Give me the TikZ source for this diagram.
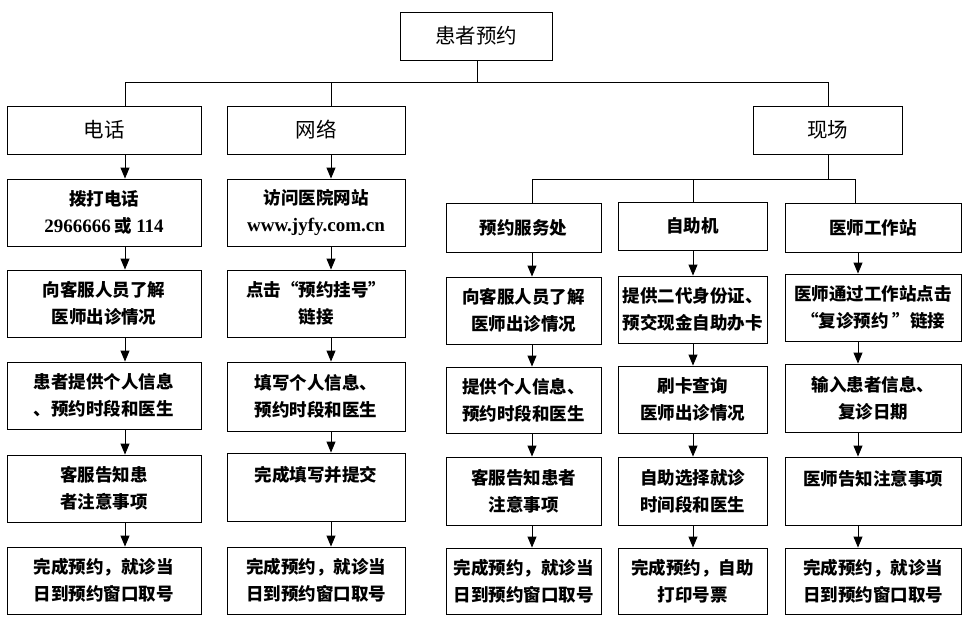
\documentclass[tikz,border=0pt]{standalone}
\usepackage{fontspec}
\setmainfont{Noto Sans CJK SC}
\newfontfamily\latf{Liberation Serif}
\usetikzlibrary{arrows.meta}
\newcommand\bodyfnt{\fontsize{17.5}{27}\selectfont\bfseries}
\newcommand\headfnt{\fontsize{20.5}{24}\selectfont}
\tikzset{
  box/.style={draw, line width=0.9pt, inner sep=0pt, align=center, font=\bodyfnt},
  hbox/.style={box, font=\headfnt},
  link/.style={line width=0.9pt},
  arr/.style={line width=0.9pt, -{Triangle[length=11pt,width=9pt]}}
}
\begin{document}
\begin{tikzpicture}[x=1pt,y=-1pt]
\useasboundingbox (0,0) rectangle (967,622);
% headers
\node[hbox, minimum width=152pt, minimum height=48pt] (top) at (476,36) {患者预约};
\node[hbox, minimum width=194pt, minimum height=48pt] (dh) at (104,130) {电话};
\node[hbox, minimum width=178pt, minimum height=48pt] (wl) at (316,130) {网络};
\node[hbox, minimum width=149pt, minimum height=48pt] (xc) at (827.5,130) {现场};
% column 1
\node[box, minimum width=194pt, minimum height=67pt] (a1) at (104,212.5) {拨打电话\\{\latf\fontsize{19}{27}\selectfont 2966666} 或 {\latf\fontsize{19}{27}\selectfont 114}};
\node[box, minimum width=194pt, minimum height=67pt] (a2) at (104,303.5) {向客服人员了解\\医师出诊情况};
\node[box, minimum width=194pt, minimum height=67pt] (a3) at (104,395.5) {患者提供个人信息\\、预约时段和医生};
\node[box, minimum width=194pt, minimum height=67pt] (a4) at (104,488.5) {客服告知患\\者注意事项};
\node[box, minimum width=194pt, minimum height=67pt] (a5) at (104,580.5) {完成预约，就诊当\\日到预约窗口取号};
% column 2
\node[box, minimum width=178pt, minimum height=67pt] (b1) at (316,212.5) {访问医院网站\\{\latf\fontsize{19}{27}\selectfont www.jyfy.com.cn}};
\node[box, minimum width=178pt, minimum height=67pt] (b2) at (316,303.5) {点击“预约挂号”\\链接};
\node[box, minimum width=178pt, minimum height=69pt] (b3) at (316,396.5) {填写个人信息、\\预约时段和医生};
\node[box, minimum width=178pt, minimum height=68pt] (b4) at (316,487) {完成填写并提交\\\mbox{}};
\node[box, minimum width=178pt, minimum height=67pt] (b5) at (316,580.5) {完成预约，就诊当\\日到预约窗口取号};
% column 3
\node[box, minimum width=155pt, minimum height=49pt] (c0) at (523.5,227.5) {预约服务处};
\node[box, minimum width=155pt, minimum height=67pt] (c2) at (523.5,310.5) {向客服人员了解\\医师出诊情况};
\node[box, minimum width=155pt, minimum height=66pt] (c3) at (523.5,400) {提供个人信息、\\预约时段和医生};
\node[box, minimum width=155pt, minimum height=68pt] (c4) at (523.5,491) {客服告知患者\\注意事项};
\node[box, minimum width=155pt, minimum height=66pt] (c5) at (523.5,581) {完成预约，就诊当\\日到预约窗口取号};
% column 4
\node[box, minimum width=149pt, minimum height=48pt] (d0) at (692.5,226) {自助机};
\node[box, minimum width=149pt, minimum height=67pt] (d2) at (692.5,309.5) {提供二代身份证、\\预交现金自助办卡};
\node[box, minimum width=149pt, minimum height=67pt] (d3) at (692.5,399.5) {刷卡查询\\医师出诊情况};
\node[box, minimum width=149pt, minimum height=68pt] (d4) at (692.5,491) {自助选择就诊\\时间段和医生};
\node[box, minimum width=149pt, minimum height=66pt] (d5) at (692.5,581) {完成预约，自助\\打印号票};
% column 5
\node[box, minimum width=176pt, minimum height=49pt] (e0) at (873,227.5) {医师工作站};
\node[box, minimum width=176pt, minimum height=67pt] (e2) at (873,307.5) {医师通过工作站点击\\“复诊预约 ”链接};
\node[box, minimum width=176pt, minimum height=68pt] (e3) at (873,398) {输入患者信息、\\复诊日期};
\node[box, minimum width=176pt, minimum height=68pt] (e4) at (873,491) {医师告知注意事项\\\mbox{}};
\node[box, minimum width=176pt, minimum height=66pt] (e5) at (873,581) {完成预约，就诊当\\日到预约窗口取号};
% bus coordinates
\coordinate (j0) at (477,82);
\coordinate (j1) at (125,82);
\coordinate (j2) at (331,82);
\coordinate (j3) at (828,82);
\coordinate (k0) at (828,179);
\coordinate (k1) at (532,179);
\coordinate (k2) at (693,179);
\coordinate (k3) at (855,179);
\coordinate (x5) at (858,0);
% tree lines
\draw[link] (top.south -| j0) -- (j0);
\draw[link] (j1) -- (j3);
\draw[link] (j1) -- (j1 |- dh.north);
\draw[link] (j2) -- (j2 |- wl.north);
\draw[link] (j3) -- (j3 |- xc.north);
\draw[link] (xc.south -| k0) -- (k0);
\draw[link] (k1) -- (k3);
\draw[link] (k1) -- (k1 |- c0.north);
\draw[link] (k2) -- (k2 |- d0.north);
\draw[link] (k3) -- (k3 |- e0.north);
% arrows column 1
\draw[arr] (dh.south -| j1) -- (a1.north -| j1);
\draw[arr] (a1.south -| j1) -- (a2.north -| j1);
\draw[arr] (a2.south -| j1) -- (a3.north -| j1);
\draw[arr] (a3.south -| j1) -- (a4.north -| j1);
\draw[arr] (a4.south -| j1) -- (a5.north -| j1);
% arrows column 2
\draw[arr] (wl.south -| j2) -- (b1.north -| j2);
\draw[arr] (b1.south -| j2) -- (b2.north -| j2);
\draw[arr] (b2.south -| j2) -- (b3.north -| j2);
\draw[arr] (b3.south -| j2) -- (b4.north -| j2);
\draw[arr] (b4.south -| j2) -- (b5.north -| j2);
% arrows column 3
\draw[arr] (c0.south -| k1) -- (c2.north -| k1);
\draw[arr] (c2.south -| k1) -- (c3.north -| k1);
\draw[arr] (c3.south -| k1) -- (c4.north -| k1);
\draw[arr] (c4.south -| k1) -- (c5.north -| k1);
% arrows column 4
\draw[arr] (d0.south -| k2) -- (d2.north -| k2);
\draw[arr] (d2.south -| k2) -- (d3.north -| k2);
\draw[arr] (d3.south -| k2) -- (d4.north -| k2);
\draw[arr] (d4.south -| k2) -- (d5.north -| k2);
% arrows column 5
\draw[arr] (e0.south -| x5) -- (e2.north -| x5);
\draw[arr] (e2.south -| x5) -- (e3.north -| x5);
\draw[arr] (e3.south -| x5) -- (e4.north -| x5);
\draw[arr] (e4.south -| x5) -- (e5.north -| x5);
\end{tikzpicture}
\end{document}
